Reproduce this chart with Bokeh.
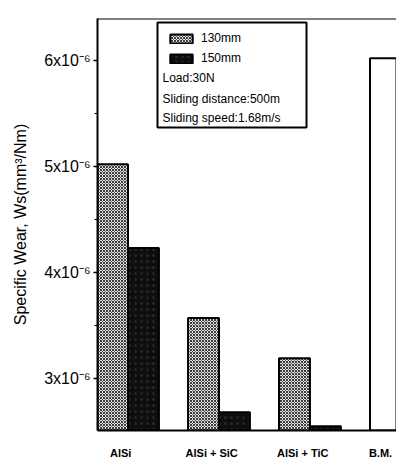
from bokeh.plotting import figure
from bokeh.models import FixedTicker, Span, BoxAnnotation, Label, Legend, LegendItem, Range1d
from bokeh.embed import file_html
from bokeh.resources import INLINE

# ---- data (specific wear, in units of 1e-6 mm^3/Nm) ----
categories = ["AlSi", "AlSi + SiC", "AlSi + TiC", "B.M."]
series_names = ["130mm", "150mm"]
wear_130 = [5.02, 3.57, 3.19]
wear_150 = [4.23, 2.68, 2.55]
wear_bm = [6.02]
y_ticks = [3, 4, 5, 6]
y_minor = [3.5, 4.5, 5.5]
y_tick_labels = ["3x10\u207b\u2076", "4x10\u207b\u2076", "5x10\u207b\u2076", "6x10\u207b\u2076"]
notes = ["Load:30N", "Sliding distance:500m", "Sliding speed:1.68m/s"]

FONT = "Liberation Sans"
X0, X1 = -0.335, 2.951
Y0, Y1 = 2.509, 6.396
W, H = 396, 465
BL, BR, BT, BB = 97, 0, 18, 35
FW, FH = W - BL - BR, H - BT - BB

def dx(px):  # page px -> data x
    return X0 + (px - BL) / FW * (X1 - X0)

def dy(py):  # page px -> data y
    return Y1 - (py - BT) / FH * (Y1 - Y0)

p = figure(width=W, height=H, x_range=Range1d(X0, X1), y_range=Range1d(Y0, Y1),
           output_backend="svg", toolbar_location=None,
           min_border_left=BL, min_border_right=BR, min_border_top=BT, min_border_bottom=BB)
p.outline_line_color = None
p.grid.visible = False
p.background_fill_color = "white"
p.border_fill_color = "white"

idx = list(range(len(wear_130)))
bw = 0.34
r130 = p.vbar(x=[i - bw / 2 for i in idx], top=wear_130, width=bw, bottom=0,
              fill_color="#e2e2e2", hatch_pattern="diagonal_cross", hatch_color="#3c3c3c",
              hatch_scale=3, hatch_weight=1, line_color="black", line_width=2)
r150 = p.vbar(x=[i + bw / 2 for i in idx], top=wear_150, width=bw, bottom=0,
              fill_color="#0e0e0e", hatch_pattern="dot", hatch_color="#262626",
              hatch_scale=6, hatch_weight=1, line_color="black", line_width=2)
p.vbar(x=[len(wear_130)], top=wear_bm, width=2 * bw, bottom=0,
       fill_color="white", line_color="black", line_width=2)

# top frame line
p.add_layout(Span(location=Y1, dimension="width", line_color="black", line_width=2))

# axes
ya = p.yaxis[0]
ya.ticker = FixedTicker(ticks=y_ticks, minor_ticks=y_minor)
ya.major_label_overrides = {t: l for t, l in zip(y_ticks, y_tick_labels)}
ya.major_label_text_font = FONT
ya.major_label_text_font_size = "16px"
ya.major_label_text_color = "black"
ya.major_label_standoff = 3
ya.major_tick_in = 0
ya.major_tick_out = 4
ya.minor_tick_in = 0
ya.minor_tick_out = 3
ya.major_tick_line_width = 1.5
ya.axis_line_width = 2
ya.axis_line_color = "black"
ya.axis_label = "Specific Wear, Ws(mm\u00b3/Nm)"
ya.axis_label_text_font = FONT
ya.axis_label_text_font_size = "16px"
ya.axis_label_text_font_style = "normal"
ya.axis_label_text_color = "black"
ya.axis_label_standoff = 12

xa = p.xaxis[0]
label_shift = -0.08
xticks = [i + label_shift for i in idx] + [dx(380)]
xa.ticker = FixedTicker(ticks=xticks, minor_ticks=[])
xa.major_label_overrides = {t: c for t, c in zip(xticks, categories)}
xa.major_label_text_font = FONT
xa.major_label_text_font_size = "11px"
xa.major_label_text_font_style = "bold"
xa.major_label_text_color = "black"
xa.major_tick_in = 0
xa.major_tick_out = 0
xa.minor_tick_in = 0
xa.minor_tick_out = 0
xa.major_label_standoff = 16
xa.axis_line_width = 2
xa.axis_line_color = "black"

# legend box
p.add_layout(BoxAnnotation(left=dx(157), right=dx(306), top=dy(22), bottom=dy(127),
                           fill_color="white", fill_alpha=1, line_color="black",
                           line_width=2, line_alpha=1))

legend = Legend(items=[LegendItem(label=series_names[0], renderers=[r130]),
                       LegendItem(label=series_names[1], renderers=[r150])],
                location=(70, 365), padding=0, margin=0, spacing=6,
                glyph_width=28, glyph_height=11, label_height=11, label_standoff=6,
                label_text_font=FONT, label_text_font_size="12px", label_text_color="black",
                border_line_color=None, background_fill_alpha=0)
p.add_layout(legend)

for txt, py in zip(notes, [77, 98, 117]):
    p.add_layout(Label(x=dx(162), y=dy(py), text=txt, text_font=FONT,
                       text_font_size="12px", text_baseline="middle", text_color="black"))

open("out.html", "w").write(file_html(p, INLINE))
